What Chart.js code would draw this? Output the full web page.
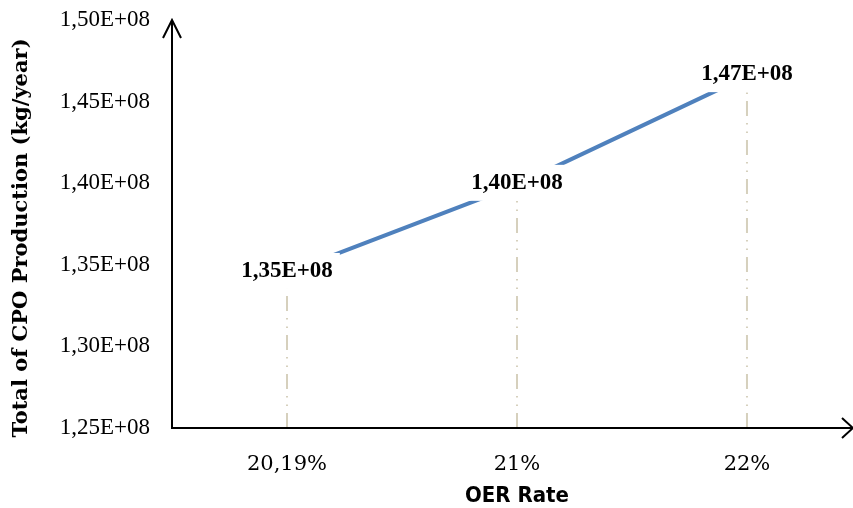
<!DOCTYPE html>
<html>
<head>
<meta charset="utf-8">
<script src="https://cdn.jsdelivr.net/npm/chart.js@4/dist/chart.umd.min.js"></script>
<style>
  html, body { margin: 0; padding: 0; background: #ffffff; }
  #wrap { width: 853px; height: 508px; position: relative; }
</style>
</head>
<body>
<div id="wrap"><canvas id="c" width="853" height="508"></canvas></div>
<script>
// ---- data ----
const categories = ['20,19%', '21%', '22%'];
const cpoProduction = [1.345e8, 1.399e8, 1.4656e8];
const yTicks = [1.25e8, 1.30e8, 1.35e8, 1.40e8, 1.45e8, 1.50e8];
const xTitle = 'OER Rate';
const yTitle = 'Total of CPO Production (kg/year)';

function sci(v) {
  const r = Math.round(v / 1e6) / 100;
  return r.toFixed(2).replace('.', ',') + 'E+08';
}

const serif = '"Liberation Serif", "Times New Roman", serif';

const decorPlugin = {
  id: 'decor',
  beforeDatasetsDraw(chart) {
    const ctx = chart.ctx;
    const area = chart.chartArea;
    const meta = chart.getDatasetMeta(0);
    ctx.save();
    ctx.strokeStyle = '#d6d0bd';
    ctx.lineWidth = 2;
    ctx.setLineDash([15, 7, 1.5, 7, 1.5, 7]);
    meta.data.forEach(pt => {
      ctx.beginPath();
      ctx.moveTo(pt.x, area.bottom);
      ctx.lineTo(pt.x, pt.y);
      ctx.stroke();
    });
    ctx.restore();
  },
  afterDatasetsDraw(chart) {
    const ctx = chart.ctx;
    const area = chart.chartArea;
    const meta = chart.getDatasetMeta(0);
    // data labels with white boxes
    ctx.save();
    ctx.font = 'bold 23px ' + serif;
    ctx.textAlign = 'center';
    ctx.textBaseline = 'middle';
    meta.data.forEach((pt, i) => {
      const txt = sci(cpoProduction[i]);
      const w = ctx.measureText(txt).width + 14;
      const h = 36;
      const cy = pt.y - 2;
      ctx.fillStyle = '#ffffff';
      ctx.fillRect(pt.x - w / 2, cy - h / 2, w, h);
      ctx.fillStyle = '#000000';
      ctx.fillText(txt, pt.x, cy);
    });
    ctx.restore();

    // axes with arrows
    ctx.save();
    ctx.strokeStyle = '#000000';
    ctx.lineWidth = 2;
    ctx.beginPath();
    ctx.moveTo(area.left, area.bottom);
    ctx.lineTo(area.left, area.top);
    ctx.moveTo(area.left - 9, area.top + 18);
    ctx.lineTo(area.left, area.top);
    ctx.lineTo(area.left + 9, area.top + 18);
    ctx.moveTo(area.left - 1, area.bottom);
    ctx.lineTo(area.right, area.bottom);
    ctx.moveTo(area.right - 11, area.bottom - 10);
    ctx.lineTo(area.right, area.bottom);
    ctx.lineTo(area.right - 11, area.bottom + 10);
    ctx.stroke();
    ctx.restore();

    // axis titles
    ctx.save();
    ctx.fillStyle = '#000000';
    ctx.textAlign = 'center';
    ctx.textBaseline = 'middle';
    ctx.font = 'bold 22px "DejaVu Sans Condensed", "DejaVu Sans", sans-serif';
    ctx.fillText(xTitle, 517, 496);
    ctx.translate(22, 238);
    ctx.rotate(-Math.PI / 2);
    ctx.font = 'bold 21px "DejaVu Serif", serif';
    ctx.fillText(yTitle, 0, 0);
    ctx.restore();
  }
};

new Chart(document.getElementById('c'), {
  type: 'line',
  data: {
    datasets: [{
      data: cpoProduction.map((v, i) => ({ x: i, y: v })),
      borderColor: '#4f81bd',
      borderWidth: 4,
      pointRadius: 0,
      tension: 0,
      fill: false
    }]
  },
  options: {
    responsive: false,
    animation: false,
    layout: { padding: { top: 20, right: 0, left: 0, bottom: 0 } },
    plugins: { legend: { display: false }, tooltip: { enabled: false } },
    scales: {
      x: {
        type: 'linear',
        min: -0.5,
        max: 2.461,
        afterBuildTicks: s => { s.ticks = categories.map((c, i) => ({ value: i })); },
        afterFit: s => { s.height = 80; s.paddingLeft = 0; s.paddingRight = 0; },
        grid: { display: false, drawTicks: false },
        border: { display: false },
        ticks: {
          callback: v => categories[v],
          padding: 24,
          maxRotation: 0,
          autoSkip: false,
          color: '#000000',
          font: { family: '"DejaVu Serif", serif', size: 21 }
        }
      },
      y: {
        min: 1.25e8,
        max: 1.5e8,
        afterBuildTicks: s => { s.ticks = yTicks.map(v => ({ value: v })); },
        afterFit: s => { s.width = 172; s.paddingTop = 0; s.paddingBottom = 0; },
        grid: { display: false, drawTicks: false },
        border: { display: false },
        ticks: {
          callback: v => sci(v),
          padding: 22,
          color: '#000000',
          font: { family: serif, size: 23 }
        }
      }
    }
  },
  plugins: [decorPlugin]
});
</script>
</body>
</html>
